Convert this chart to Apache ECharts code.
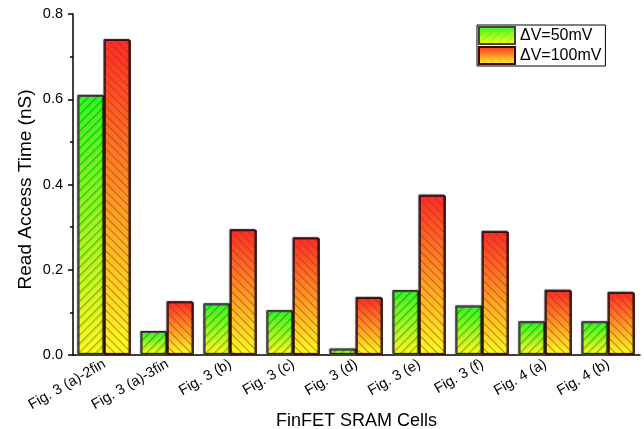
<!DOCTYPE html>
<html><head><meta charset="utf-8">
<script src="https://cdn.jsdelivr.net/npm/echarts@6/dist/echarts.min.js"></script>
<style>html,body{margin:0;padding:0;background:#fff}#c{width:644px;height:429px}</style>
</head><body><div id="c"></div>
<script>
var categories = ['Fig. 3 (a)-2fin','Fig. 3 (a)-3fin','Fig. 3 (b)','Fig. 3 (c)','Fig. 3 (d)','Fig. 3 (e)','Fig. 3 (f)','Fig. 4 (a)','Fig. 4 (b)'];
var dv50 = [0.608, 0.054, 0.119, 0.103, 0.013, 0.150, 0.114, 0.077, 0.077];
var dv100 = [0.739, 0.124, 0.293, 0.274, 0.134, 0.374, 0.289, 0.151, 0.146];
var seriesNames = ['ΔV=50mV','ΔV=100mV'];

var chart = echarts.init(document.getElementById('c'));
var font = 'Liberation Sans, Arial, sans-serif';
function grad(top){
  return new echarts.graphic.LinearGradient(0,0,0,1,[{offset:0,color:top},{offset:1,color:'#ffff22'}]);
}
function decal(rot){
  return {symbol:'rect', symbolSize:1, dashArrayX:[[1,0]], dashArrayY:[1,5], rotation:rot, color:'rgba(255,120,0,0.35)'};
}
chart.setOption({
  animation:false,
  textStyle:{fontFamily:font},
  grid:{left:73,right:4,top:14,bottom:74,outerBoundsMode:'none',containLabel:false},
  legend:{
    orient:'vertical', left:477, top:25, padding:[1,4,1,1], icon:'rect',
    borderColor:'#000', borderWidth:1, itemWidth:36, itemHeight:17, itemGap:1,
    textStyle:{fontSize:16,color:'#000',fontFamily:font},
    data:seriesNames
  },
  xAxis:[{
    type:'category', data:categories,
    name:'FinFET SRAM Cells', nameLocation:'middle', nameGap:57, nameMoveOverlap:false,
    nameTextStyle:{fontSize:18,color:'#000',fontFamily:font},
    axisLine:{lineStyle:{color:'#000',width:1.5}},
    axisTick:{alignWithLabel:true,length:5,lineStyle:{color:'#000',width:1.5}},
    axisLabel:{rotate:30,fontSize:14.5,color:'#000',margin:8,interval:0}
  },{
    type:'category', data:categories, position:'bottom',
    axisLine:{show:false}, axisLabel:{show:false},
    axisTick:{alignWithLabel:false,length:3,lineStyle:{color:'#000',width:1.5}}
  }],
  yAxis:{
    type:'value', min:0, max:0.8, interval:0.2,
    name:'Read Access Time (nS)', nameLocation:'middle', nameGap:38, nameMoveOverlap:false,
    nameTextStyle:{fontSize:19,color:'#000',fontFamily:font,padding:[0,10,0,0]},
    axisLine:{show:true,lineStyle:{color:'#000',width:1.5}},
    axisTick:{show:true,length:5,lineStyle:{color:'#000',width:1.5}},
    minorTick:{show:true,splitNumber:2,length:3,lineStyle:{color:'#000',width:1.5}},
    splitLine:{show:false},
    axisLabel:{fontSize:14.5,color:'#000',margin:10,formatter:function(v){return v.toFixed(1);}}
  },
  series:[{
    name:seriesNames[0], type:'bar', data:dv50, barGap:'0%', barCategoryGap:'17%',
    itemStyle:{color:grad('#22ff22'), borderColor:'#444', borderWidth:1, decal:decal(-Math.PI/4),
      shadowColor:'rgba(0,0,0,0.25)', shadowBlur:1, shadowOffsetX:-1, shadowOffsetY:-1}
  },{
    name:seriesNames[1], type:'bar', data:dv100,
    itemStyle:{color:grad('#ff2a2a'), borderColor:'#3a0a0a', borderWidth:1, decal:decal(Math.PI/4),
      shadowColor:'rgba(0,0,0,0.25)', shadowBlur:1, shadowOffsetX:-1, shadowOffsetY:-1}
  }]
});
</script></body></html>
